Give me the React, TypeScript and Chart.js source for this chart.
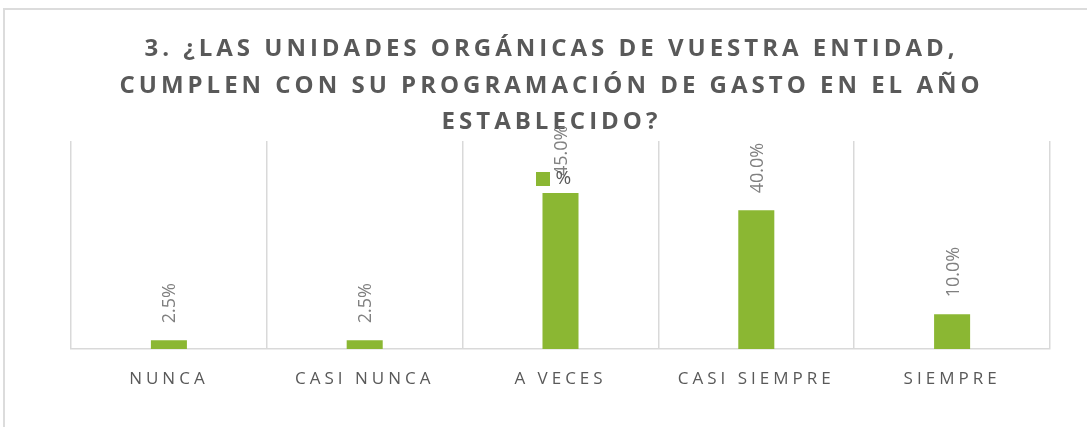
import React, { useEffect, useRef } from 'react';
import { Chart, registerables } from 'chart.js';

Chart.register(...registerables);

const categories = ['NUNCA', 'CASI NUNCA', 'A VECES', 'CASI SIEMPRE', 'SIEMPRE'];
const percentValues = [2.5, 2.5, 45.0, 40.0, 10.0];
const seriesLabel = '%';
const titleLines = [
  '3. ¿LAS UNIDADES ORGÁNICAS DE VUESTRA ENTIDAD,',
  'CUMPLEN CON SU PROGRAMACIÓN DE GASTO EN EL AÑO',
  'ESTABLECIDO?',
];
const yMax = 60;

const GREEN = '#8BB733';
const TEXT = '#595959';
const LABEL = '#808080';
const GRID = '#d9d9d9';
const FONT = '"Open Sans", "DejaVu Sans", sans-serif';

const decorPlugin = {
  id: 'decor',
  beforeDraw(chart: any) {
    chart.ctx.letterSpacing = '4px';
  },
  beforeDatasetsDraw(chart: any) {
    chart.ctx.letterSpacing = '4px';
  },
  afterDatasetsDraw(chart: any) {
    const ctx = chart.ctx;
    const meta = chart.getDatasetMeta(0);
    meta.data.forEach((bar: any, i: number) => {
      const { x, y } = bar.getProps(['x', 'y'], true);
      ctx.save();
      ctx.letterSpacing = '0px';
      ctx.translate(x + 6.5, y - 17);
      ctx.rotate(-Math.PI / 2);
      ctx.font = `18px ${FONT}`;
      ctx.fillStyle = LABEL;
      ctx.textAlign = 'left';
      ctx.textBaseline = 'alphabetic';
      ctx.fillText(percentValues[i].toFixed(1) + '%', 0, 0);
      ctx.restore();
    });
  },
  afterDraw(chart: any) {
    const ctx = chart.ctx;
    const area = chart.chartArea;
    const cx = (area.left + area.right) / 2;
    const ds = chart.data.datasets[0];
    ctx.save();
    ctx.letterSpacing = '0px';
    ctx.fillStyle = ds.backgroundColor;
    ctx.fillRect(cx - 24.5, area.top + 31, 14, 14);
    ctx.font = `19px ${FONT}`;
    ctx.fillStyle = TEXT;
    ctx.textAlign = 'left';
    ctx.textBaseline = 'middle';
    ctx.fillText(ds.label, cx - 5, area.top + 38);
    ctx.restore();
  },
};

export default function App() {
  const ref = useRef<HTMLCanvasElement | null>(null);

  useEffect(() => {
    document.body.style.margin = '0';
    const canvas = ref.current;
    if (!canvas) return;
    const chart = new Chart(canvas, {
      type: 'bar',
      data: {
        labels: categories,
        datasets: [
          {
            label: seriesLabel,
            data: percentValues,
            backgroundColor: GREEN,
            borderWidth: 0,
            barPercentage: 0.184,
            categoryPercentage: 1.0,
          },
        ],
      },
      options: {
        responsive: false,
        animation: false,
        layout: { padding: { left: 53, right: 37, top: 0, bottom: 17.6 } },
        plugins: {
          legend: { display: false },
          tooltip: { enabled: false },
          title: {
            display: true,
            text: titleLines,
            color: TEXT,
            font: { family: FONT, size: 24, weight: 'bold', lineHeight: 36.5 / 24 },
            padding: { top: 31, bottom: 0.5 },
          },
        },
        scales: {
          x: {
            grid: { display: true, color: GRID, lineWidth: 1.5, drawTicks: false, offset: true },
            border: { display: true, color: GRID, width: 1.5 },
            ticks: {
              color: TEXT,
              font: { family: FONT, size: 17 },
              padding: 20,
              autoSkip: false,
              maxRotation: 0,
              minRotation: 0,
              z: 1,
            },
          },
          y: {
            display: true,
            min: 0,
            max: yMax,
            grid: { display: false },
            border: { display: false },
            ticks: { display: false },
            afterFit(scale: any) {
              scale.width = 18;
            },
          },
        },
      },
      plugins: [decorPlugin],
    });
    return () => chart.destroy();
  }, []);

  return (
    <div style={{ position: 'relative', width: 1087, height: 427, overflow: 'hidden' }}>
      <canvas ref={ref} width={1087} height={427} style={{ display: 'block' }} />
      <div
        style={{
          position: 'absolute',
          left: 3,
          top: 8,
          width: 2000,
          height: 1000,
          border: '2px solid #dcdcdc',
          pointerEvents: 'none',
        }}
      />
    </div>
  );
}
